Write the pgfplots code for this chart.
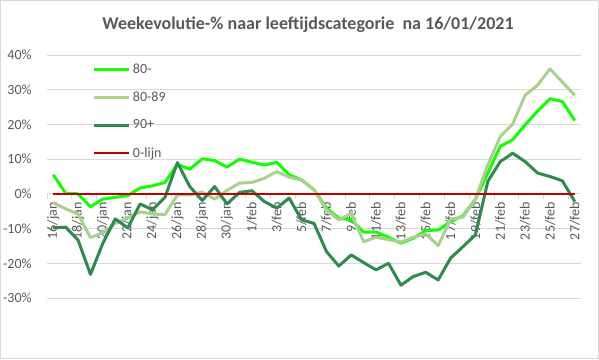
\documentclass[border=0pt]{standalone}
\usepackage{pgfplots}
\pgfplotsset{compat=1.18}
\usepackage{fontspec}
\setmainfont{Carlito}
\definecolor{txtgray}{HTML}{595959}
\definecolor{gridgray}{HTML}{D9D9D9}
\definecolor{cA}{HTML}{11FF00}
\definecolor{cB}{HTML}{A9D18E}
\definecolor{cC}{HTML}{2F8A4E}
\definecolor{cR}{HTML}{C00000}
\begin{document}
\begin{tikzpicture}
\draw[gridgray, line width=1pt] (0.5pt,0.5pt) rectangle (598.5pt,358.5pt);
\node[font=\fontsize{18}{21}\selectfont\bfseries, text=txtgray] at (308pt,334pt) {Weekevolutie-\% naar leeftijdscategorie\ \ na 16/01/2021};
\begin{axis}[
 at={(47pt,61pt)}, anchor=south west, scale only axis, width=534pt, height=243pt,
 xmin=-0.5, xmax=42.5, ymin=-30, ymax=40,
 axis x line=middle, axis y line=left,
 hide obscured x ticks=false, hide obscured y ticks=false,
 x axis line style={draw=gridgray, line width=1pt, -},
 y axis line style={draw=none, -},
 ytick={-30,-20,...,40},
 yticklabels={-30\%,-20\%,-10\%,0\%,10\%,20\%,30\%,40\%},
 ymajorgrids, grid style={gridgray, line width=1pt},
 ytick style={draw=none},
 yticklabel style={font=\fontsize{14}{16}\selectfont, text=txtgray, inner sep=0pt, anchor=east, xshift=-13pt},
 xtick={0,2,...,42},
 xticklabels={16/jan,18/jan,20/jan,22/jan,24/jan,26/jan,28/jan,30/jan,1/feb,3/feb,5/feb,7/feb,9/feb,11/feb,13/feb,15/feb,17/feb,19/feb,21/feb,23/feb,25/feb,27/feb},
 xtick style={draw=none},
 xticklabel style={font=\fontsize{14}{16}\selectfont, text=txtgray, inner sep=0pt, yshift=-6pt, rotate=90, anchor=east},
 extra x ticks={-0.5,1.5,...,41.5},
 extra x tick labels={},
 extra x tick style={xtick style={draw=gridgray, line width=1pt}, major tick length=5pt, tick align=outside},
 legend style={draw=none, fill=none, at={(0.0861,1)}, anchor=north west, inner sep=0pt, outer sep=0pt, column sep=0pt, row sep=0pt,
   font=\fontsize{14}{16}\selectfont, text=txtgray, nodes={inner xsep=2pt, inner ysep=0pt, minimum height=28pt}},
 legend cell align=left,
 legend image code/.code={\draw[#1] (0pt,0pt) -- (35pt,0pt);},
 every axis plot/.append style={line width=3pt, line join=round, mark=none},
]
\addplot[cA] coordinates {
(0,5.5) (1,0.2) (2,0) (3,-3.7) (4,-1.5) (5,-1.0) (6,-0.5) (7,1.7) (8,2.3) (9,3.3)
(10,8.5) (11,7.1) (12,10.1) (13,9.6) (14,7.7) (15,10.0) (16,9.1) (17,8.3) (18,9.1) (19,5.5)
(20,4.0) (21,1.2) (22,-4.1) (23,-7.0) (24,-7.5) (25,-11.0) (26,-11.0) (27,-12.5) (28,-14.2) (29,-12.8)
(30,-10.6) (31,-10.4) (32,-8.0) (33,-6.3) (34,-1.5) (35,6.0) (36,13.7) (37,15.6) (38,19.9) (39,23.8)
(40,27.4) (41,26.6) (42,21.1)};
\addlegendentry{80-}
\addplot[cB] coordinates {
(0,-2.6) (1,-4.3) (2,-5.8) (3,-12.6) (4,-11.2) (5,-8.5) (6,-7.0) (7,-5.2) (8,-5.8) (9,-6.0)
(10,-0.3) (11,-0.3) (12,0.5) (13,-1.5) (14,1.0) (15,3.1) (16,3.3) (17,4.5) (18,6.4) (19,4.8)
(20,4.0) (21,1.2) (22,-4.6) (23,-7.5) (24,-5.6) (25,-13.8) (26,-12.5) (27,-13.2) (28,-13.9) (29,-12.5)
(30,-11.5) (31,-14.9) (32,-7.3) (33,-6.7) (34,-1.5) (35,8.4) (36,16.5) (37,20.1) (38,28.4) (39,31.3)
(40,36.0) (41,32.2) (42,28.4)};
\addlegendentry{80-89}
\addplot[cC] coordinates {
(0,-9.8) (1,-9.6) (2,-13.3) (3,-23.2) (4,-14.2) (5,-7.2) (6,-9.8) (7,-2.9) (8,-4.6) (9,-1.0)
(10,9.0) (11,2.1) (12,-1.9) (13,2.1) (14,-2.9) (15,0.4) (16,0.9) (17,-2.2) (18,-4.1) (19,-1.2)
(20,-7.5) (21,-8.5) (22,-16.6) (23,-20.8) (24,-17.6) (25,-19.8) (26,-21.9) (27,-20.0) (28,-26.3) (29,-23.8)
(30,-22.6) (31,-24.8) (32,-18.5) (33,-15.2) (34,-11.8) (35,3.6) (36,9.3) (37,11.7) (38,9.3) (39,6.0)
(40,5.0) (41,3.75) (42,-2.2)};
\addlegendentry{90+}
\addplot[cR, line width=2.5pt] coordinates {(0,0) (42,0)};
\addlegendentry{0-lijn}
\end{axis}
\end{tikzpicture}
\end{document}
